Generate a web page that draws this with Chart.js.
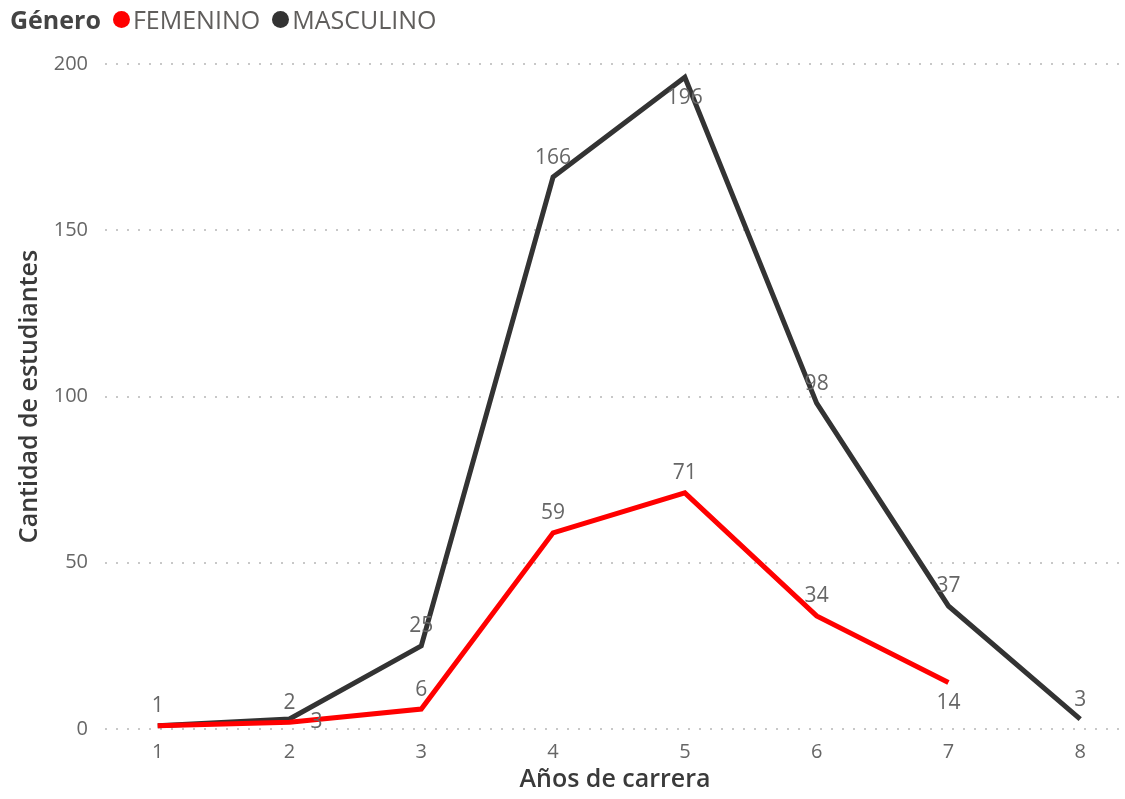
<!DOCTYPE html>
<html>
<head>
<meta charset="utf-8">
<script src="https://cdn.jsdelivr.net/npm/chart.js@4"></script>
<style>
  html, body { margin: 0; padding: 0; background: #fff; }
  #wrap { position: relative; width: 1125px; height: 799px; }
  #legend { position: absolute; left: 10px; top: 2px; font-family: "Open Sans", sans-serif; font-size: 25px; color: #605e5c; display: flex; align-items: center; }
  #legend b { color: #444; margin-right: 12px; font-size: 25px; }
  .dot { display: inline-block; width: 17px; height: 17px; border-radius: 50%; margin-right: 3px; }
  .item { display: flex; align-items: center; margin-right: 12px; }
</style>
</head>
<body>
<div id="wrap">
  <canvas id="chart" width="1125" height="799"></canvas>
  <div id="legend">
    <b>Género</b>
    <span class="item"><span class="dot" style="background:#ff0000"></span>FEMENINO</span>
    <span class="item"><span class="dot" style="background:#333333"></span>MASCULINO</span>
  </div>
</div>
<script>
const years = [1, 2, 3, 4, 5, 6, 7, 8];
const femenino = [1, 2, 6, 59, 71, 34, 14, null];
const masculino = [1, 3, 25, 166, 196, 98, 37, 3];
const yTicks = [0, 50, 100, 150, 200];

// where each label sits relative to its point: 'up', 'down', 'downRight', 'none'
const femLabelPos = ['none', 'up', 'up', 'up', 'up', 'up', 'down', 'none'];
const masLabelPos = ['up', 'downRight', 'up', 'up', 'down', 'up', 'up', 'up'];

const labelPlugin = {
    id: 'pointLabels',
    afterDatasetsDraw(chart) {
        const ctx = chart.ctx;
        const xs = chart.scales.x, ys = chart.scales.y;
        ctx.save();
        ctx.font = '21px "Open Sans", sans-serif';
        ctx.fillStyle = '#666';
        ctx.textAlign = 'center';
        const sets = [[femenino, femLabelPos], [masculino, masLabelPos]];
        sets.forEach(([vals, pos]) => {
            vals.forEach((v, i) => {
                if (v === null || pos[i] === 'none') return;
                let px = xs.getPixelForValue(years[i]);
                let py = ys.getPixelForValue(v);
                if (pos[i] === 'up') { ctx.textBaseline = 'bottom'; py -= 9; }
                else if (pos[i] === 'down') { ctx.textBaseline = 'top'; py += 10; }
                else { ctx.textBaseline = 'top'; py -= 8; px += 27; }
                ctx.fillText(String(v), px, py);
            });
        });
        ctx.restore();
    }
};

new Chart(document.getElementById('chart').getContext('2d'), {
    type: 'line',
    data: {
        datasets: [
            {
                label: 'FEMENINO',
                data: years.map((y, i) => ({ x: y, y: femenino[i] })),
                borderColor: '#ff0000',
                backgroundColor: '#ff0000',
                borderWidth: 5,
                pointRadius: 0,
                tension: 0
            },
            {
                label: 'MASCULINO',
                data: years.map((y, i) => ({ x: y, y: masculino[i] })),
                borderColor: '#333333',
                backgroundColor: '#333333',
                borderWidth: 5,
                pointRadius: 0,
                tension: 0
            }
        ]
    },
    options: {
        responsive: false,
        animation: false,
        layout: { padding: { top: 64, right: 0, left: 11, bottom: 0 } },
        plugins: { legend: { display: false }, tooltip: { enabled: false } },
        scales: {
            x: {
                type: 'linear',
                min: 0.6,
                max: 8.34,
                afterBuildTicks: axis => { axis.ticks = years.map(v => ({ value: v })); },
                afterFit: axis => { axis.height = 70; },
                grid: { display: false, drawTicks: false },
                border: { display: false },
                ticks: { color: '#666', font: { family: 'Open Sans', size: 20 }, padding: 11 },
                title: { display: true, text: 'Años de carrera', color: '#3a3a3a', font: { family: 'Open Sans', size: 25, weight: '600' }, padding: { top: 3 } }
            },
            y: {
                min: 0,
                max: 200,
                afterBuildTicks: axis => { axis.ticks = yTicks.map(v => ({ value: v })); },
                afterFit: axis => { axis.width = 94; },
                grid: { color: '#c8c8c8', lineWidth: 2, drawTicks: false },
                border: { display: false, dash: [2, 9] },
                ticks: { color: '#666', font: { family: 'Open Sans', size: 20 }, padding: 17 },
                title: { display: true, text: 'Cantidad de estudiantes', color: '#3a3a3a', font: { family: 'Open Sans', size: 25, weight: '600' }, padding: { bottom: 4 } }
            }
        }
    },
    plugins: [labelPlugin]
});
</script>
</body>
</html>
